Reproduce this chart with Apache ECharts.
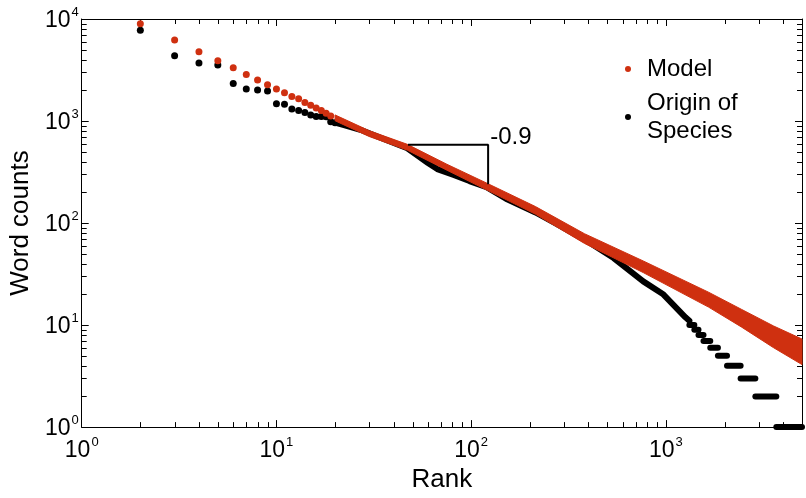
<!DOCTYPE html>
<html><head><meta charset="utf-8">
<script src="https://cdn.jsdelivr.net/npm/echarts@6/dist/echarts.min.js"></script>
<style>html,body{margin:0;padding:0;background:#fff}#c{width:806px;height:498px}</style>
</head><body><div id="c"></div>
<script>
// ---- data ----
const modelRanks  = [2,3,4,5,6,7,8,9,10,11,12,13,14,15,16,17,18,19];
const modelCounts = [8960,6210,4780,3890,3320,2865,2530,2265,2060,1890,1742,1656,1517,1430,1340,1265,1192,1123];

const originRanks  = [2,3,4,5,6,7,8,9,10,11,12,13,14,15,16,17,18,19,20];
const originCounts = [7740,4375,3700,3540,2335,2060,2017,1973,1475,1462,1310,1265,1210,1148,1109,1105,1100,985,963];

// dense part of the model curve: upper and lower edge of the band of points
const modelBandRanks = [20,21,30,47,75,122,214,382,765,1656,2438,3573,5000];
const modelBandUpper = [1148,1099,803,591,377,243,145,78.6,42.5,21.0,14.3,9.8,7.3];
const modelBandLower = [1007,963,704,518,330,208,122,63.1,32.7,15.0,9.6,6.0,4.1];

// dense part of the Origin of Species curve
const originLineRanks  = [20,22,27,35,47,53,60,67,82,98,120,151,214,270,382,539,765,964,1260,1320];
const originLineCounts = [963,916,820,674,541,460,388,338,295,258,225,173,127,100,68.9,45.4,26.8,20.2,11.9,11];

// plateaus of equal counts in the tail
const originTailStart = [1320,1400,1470,1560,1690,1850,2060,2420,2880,3690];
const originTailEnd   = [1400,1470,1560,1690,1850,2060,2420,2880,3690,5000];
const originTailCount = [10,9,8,7,6,5,4,3,2,1];

// slope guide
const slopeRanks  = [47.4,122.2,122.2];
const slopeCounts = [587,587,240];
const slopeText = '-0.9';

const xMinorTicks = [2,3,4,5,6,7,8,9,20,30,40,50,60,70,80,90,200,300,400,500,600,700,800,900,2000,3000,4000];
const yMinorTicks = [2,3,4,5,6,7,8,9,20,30,40,50,60,70,80,90,200,300,400,500,600,700,800,900,2000,3000,4000,5000,6000,7000,8000,9000];

const seriesNames = ['Model','Origin of Species'];
const xName = 'Rank', yName = 'Word counts';

// ---- styles ----
const FONT = '"Liberation Sans", Arial, Helvetica, sans-serif';
const RED = '#cf3010', BLACK = '#000';

function powLabel(v){
  const e = Math.round(Math.log10(v));
  if (Math.abs(Math.pow(10,e) - v) > 1e-6 * v) return '';
  return '{b|10}{e|' + e + '}';
}
const labelRich = {
  b: {fontSize: 23, fontFamily: FONT, color: '#000', padding: [3,0,0,0]},
  e: {fontSize: 13, fontFamily: FONT, color: '#000', verticalAlign: 'top', padding: [0,0,0,1]}
};

const chart = echarts.init(document.getElementById('c'), null, {renderer: 'canvas'});

const zip2 = (a,b) => a.map((v,i)=>[v,b[i]]);

const option = {
  animation: false,
  backgroundColor: '#fff',
  grid: {left: 67, right: 4, top: 19, bottom: 59, containLabel: false},
  legend: {
    orient: 'vertical', left: 620, top: 50,
    itemWidth: 6, itemHeight: 6, itemGap: 6,
    data: seriesNames.map(n => ({name: n, icon: 'circle'})),
    formatter: n => n === 'Origin of Species' ? 'Origin of\nSpecies' : n,
    textStyle: {fontSize: 24, lineHeight: 28, fontFamily: FONT, color: '#000', padding: [0,0,0,11]}
  },
  xAxis: [{
    type: 'log', logBase: 10, min: 1, max: 5000,
    name: xName, nameLocation: 'middle', nameGap: 36,
    nameTextStyle: {fontSize: 26, fontFamily: FONT, color: '#000'},
    axisLine: {show: true, lineStyle: {color: '#000', width: 1}},
    axisTick: {show: true, inside: true, length: 7, lineStyle: {color: '#000'}},
    axisLabel: {formatter: powLabel, rich: labelRich, margin: 9, showMaxLabel: false},
    splitLine: {show: false}
  }, {
    type: 'log', logBase: 10, min: 1, max: 5000, position: 'top',
    axisLine: {show: true, lineStyle: {color: '#000', width: 1}},
    axisTick: {show: true, inside: true, length: 7, lineStyle: {color: '#000'}},
    axisLabel: {show: false}, splitLine: {show: false}
  }],
  yAxis: [{
    type: 'log', logBase: 10, min: 1, max: 10000,
    name: yName, nameLocation: 'middle', nameGap: 44,
    nameTextStyle: {fontSize: 26, fontFamily: FONT, color: '#000'},
    axisLine: {show: true, lineStyle: {color: '#000', width: 1}},
    axisTick: {show: true, inside: true, length: 7, lineStyle: {color: '#000'}},
    axisLabel: {formatter: powLabel, rich: labelRich, margin: 3},
    splitLine: {show: false}
  }, {
    type: 'log', logBase: 10, min: 1, max: 10000, position: 'right',
    axisLine: {show: true, lineStyle: {color: '#000', width: 1}},
    axisTick: {show: true, inside: true, length: 7, lineStyle: {color: '#000'}},
    axisLabel: {show: false}, splitLine: {show: false}
  }],
  series: [
    {
      type: 'custom', silent: true, clip: false, z: 1,
      data: xMinorTicks.map(v => [v, 1]),
      encode: {x: 0, y: 1},
      renderItem: (params, api) => {
        const cs = params.coordSys;
        const x = Math.round(api.coord([api.value(0), 1])[0]) + 0.5;
        const yb = cs.y + cs.height, yt = cs.y;
        return {type: 'group', children: [
          {type: 'line', shape: {x1: x, y1: yb, x2: x, y2: yb - 5}, style: {stroke: '#000', lineWidth: 1}},
          {type: 'line', shape: {x1: x, y1: yt, x2: x, y2: yt + 5}, style: {stroke: '#000', lineWidth: 1}}
        ]};
      }
    },
    {
      type: 'custom', silent: true, clip: false, z: 1,
      data: yMinorTicks.map(v => [1, v]),
      encode: {x: 0, y: 1},
      renderItem: (params, api) => {
        const cs = params.coordSys;
        const y = Math.round(api.coord([1, api.value(1)])[1]) + 0.5;
        const xl = cs.x, xr = cs.x + cs.width;
        return {type: 'group', children: [
          {type: 'line', shape: {x1: xl, y1: y, x2: xl + 5, y2: y}, style: {stroke: '#000', lineWidth: 1}},
          {type: 'line', shape: {x1: xr, y1: y, x2: xr - 5, y2: y}, style: {stroke: '#000', lineWidth: 1}}
        ]};
      }
    },
    {
      name: 'Origin of Species', type: 'line', z: 3,
      data: zip2(originLineRanks, originLineCounts),
      symbol: 'none', showSymbol: false, smooth: false,
      lineStyle: {color: BLACK, width: 6, cap: 'round', join: 'round'},
      itemStyle: {color: BLACK}
    },
    {
      name: 'Origin of Species', type: 'custom', z: 3, clip: false,
      data: originTailStart.map((s,i) => [s, originTailEnd[i], originTailCount[i]]),
      encode: {x: [0,1], y: 2},
      itemStyle: {color: BLACK},
      renderItem: (params, api) => {
        const p1 = api.coord([api.value(0), api.value(2)]);
        const p2 = api.coord([api.value(1), api.value(2)]);
        return {type: 'line', shape: {x1: p1[0], y1: p1[1], x2: p2[0], y2: p2[1]},
                style: {stroke: BLACK, lineWidth: 6, lineCap: 'round'}};
      }
    },
    {
      name: 'Origin of Species', type: 'scatter', z: 3,
      data: zip2(originRanks, originCounts),
      symbol: 'circle', symbolSize: 7,
      itemStyle: {color: BLACK, opacity: 1}
    },
    {
      name: 'Model', type: 'custom', z: 4, clip: true,
      data: modelBandRanks.map((r,i) => [r, modelBandUpper[i], modelBandLower[i]]),
      encode: {x: 0, y: [1,2]},
      itemStyle: {color: RED},
      renderItem: (params, api) => {
        if (params.dataIndex !== 0) return null;
        const pts = [];
        for (let i = 0; i < modelBandRanks.length; i++) pts.push(api.coord([modelBandRanks[i], modelBandUpper[i]]));
        for (let i = modelBandRanks.length - 1; i >= 0; i--) pts.push(api.coord([modelBandRanks[i], modelBandLower[i]]));
        return {type: 'polygon', shape: {points: pts, smooth: 0}, style: {fill: RED, stroke: RED, lineWidth: 1, lineJoin: 'round'}};
      }
    },
    {
      name: 'Model', type: 'scatter', z: 4,
      data: zip2(modelRanks, modelCounts),
      symbol: 'circle', symbolSize: 7,
      itemStyle: {color: RED, opacity: 1}
    },
    {
      name: 'slope', type: 'line', z: 5, silent: true,
      data: slopeRanks.map((r,i) => {
        const item = {value: [r, slopeCounts[i]]};
        if (i === 1) item.label = {show: true, formatter: slopeText, position: 'right', distance: 2, offset: [0,-7],
                                   fontSize: 24, fontFamily: FONT, color: '#000'};
        return item;
      }),
      symbol: 'circle', symbolSize: 0.1, showSymbol: true,
      itemStyle: {color: 'rgba(0,0,0,0)'},
      lineStyle: {color: '#000', width: 2},
      label: {show: false}
    }
  ]
};
chart.setOption(option);
</script>
</body></html>
